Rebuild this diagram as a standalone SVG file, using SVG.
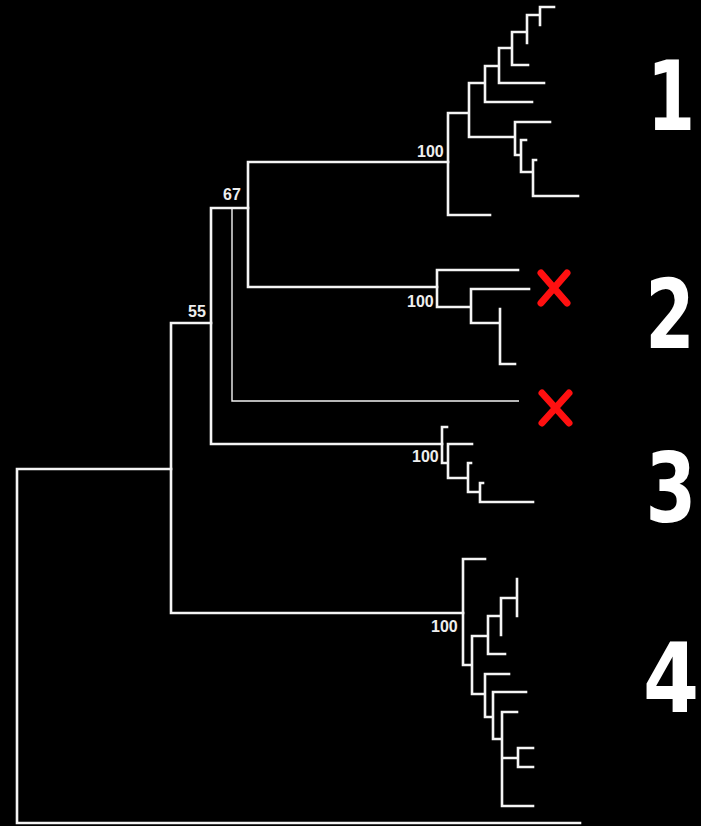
<svg xmlns="http://www.w3.org/2000/svg" width="701" height="826" viewBox="0 0 701 826">
<style>
.br{fill:none;stroke:#f4f4f4;stroke-width:2.6;stroke-linecap:square;stroke-linejoin:miter}
.thin{fill:none;stroke:#f4f4f4;stroke-width:1.4}
.bs{font-family:"Liberation Sans",Arial,sans-serif;font-weight:bold;font-size:16px;fill:#eeeeee}
.big{font-family:"DejaVu Sans",sans-serif;font-weight:bold;font-size:96px;fill:#ffffff;text-anchor:middle}
.x{stroke:#ff1010;stroke-width:7;stroke-linecap:round}
</style>
<rect width="701" height="826" fill="#000"/>
<g id="connectors">
<path class="br" d="M17,469 V823 M17,469 H171 M17,823 H580"/>
<path class="br" d="M171,323 V613 M171,323 H211 M171,613 H463"/>
<path class="br" d="M211,208 V444 M211,208 H248 M211,444 H442"/>
<path class="thin" d="M232,208 V401 H519"/>
<path class="br" d="M248,162 V287 M248,162 H448 M248,287 H437"/>
</g>
<g id="clade1">
<path class="br" d="M448,113 V215 M448,215 H490 M448,113 H469 M469,83 V137 M469,137 H515 M469,83 H485 M485,66 V102 M485,102 H532 M485,66 H499 M499,48 V83 M499,83 H544 M499,48 H512 M512,32 V65 M512,65 H528 M512,32 H527 M527,15 V43 M527,15 H540 M540,7 V25 M540,7 H554 M515,122 V155 M515,122 H550 M515,155 H521 M521,140 V172 M521,140 H526 M521,172 H533 M533,160 V196 M533,160 H536 M533,196 H578"/>
</g>
<g id="clade2">
<path class="br" d="M437,270 V307 M437,270 H518 M437,307 H471 M471,289 V323 M471,289 H529 M471,323 H500 M500,309 V364 H515"/>
</g>
<g id="clade3">
<path class="br" d="M442,427 V463 M442,427 H447 M442,463 H448 M448,444 V478 M448,444 H472 M448,478 H468 M468,463 V492 M468,463 H471 M468,492 H480 M480,483 V502 M480,483 H483 M480,502 H533"/>
</g>
<g id="clade4">
<path class="br" d="M463,559 V665 M463,559 H485 M463,665 H472 M472,636 V694 M472,636 H488 M488,616 V654 M488,654 H505 M488,616 H501 M501,598 V635 M501,598 H517 M517,579 V616 M472,694 H485 M485,674 V717 M485,674 H509 M485,717 H493 M493,692 V739 M493,692 H526 M493,739 H502 M502,712 V806 M502,712 H517 M502,806 H533 M502,758 H518 M518,748 V767 M518,748 H533 M518,767 H533"/>
</g>
<g id="support-labels">
<text class="bs" x="417" y="157">100</text>
<text class="bs" x="407" y="307">100</text>
<text class="bs" x="412" y="462">100</text>
<text class="bs" x="431" y="632">100</text>
<text class="bs" x="223" y="200">67</text>
<text class="bs" x="188" y="317">55</text>
</g>
<g id="cross1"><path class="x" d="M541,273 L567,303 M567,273 L541,303"/></g>
<g id="cross2"><path class="x" d="M542,393 L569,423 M569,393 L542,423"/></g>
<g id="group-labels">
<text class="big" transform="translate(671,130) scale(0.72,1)">1</text>
<text class="big" transform="translate(670,348) scale(0.74,1)">2</text>
<text class="big" transform="translate(671,522) scale(0.76,1)">3</text>
<text class="big" transform="translate(671,712) scale(0.84,1)">4</text>
</g>
</svg>
